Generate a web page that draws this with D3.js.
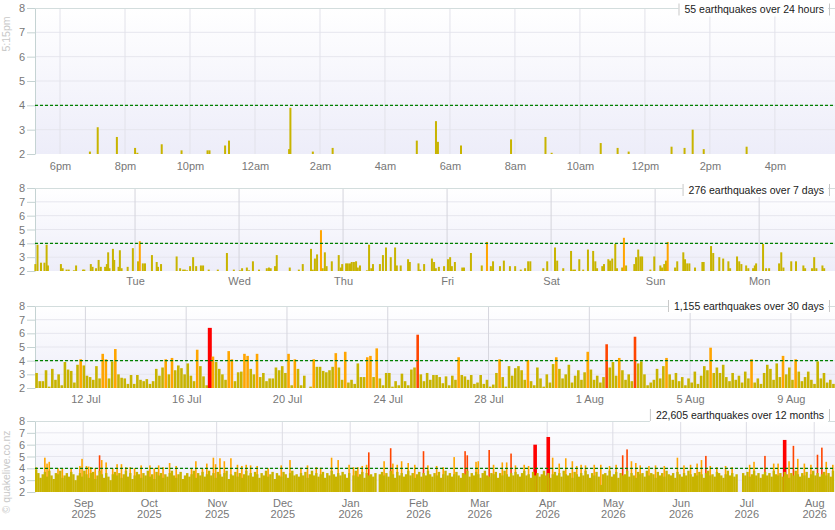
<!DOCTYPE html>
<meta charset="utf-8">
<style>
  body { margin: 0; background: #fff; }
  svg text { font-family: "Liberation Sans", Arial, sans-serif; }
</style>
<div id="chart"></div>
<script src="https://cdn.jsdelivr.net/npm/d3@7/dist/d3.min.js"></script>
<script>
// ---------- data ----------
var magTicks = [2, 3, 4, 5, 6, 7, 8];

// 24 hours: [hours from 10 Aug 00:00, magnitude]
var dayQuakes = [[-5.08,2.1],[-4.84,3.1],[-4.25,2.7],[-3.69,2.25],[-3.62,2.05],[-2.87,2.4],[-2.26,2.15],
  [-1.46,2.15],[-1.40,2.15],[-0.92,2.35],[-0.80,2.55],[1.05,2.2],[1.09,3.9],[1.78,2.1],[2.39,2.25],
  [4.98,2.55],[5.57,3.35],[5.63,2.5],[6.34,2.35],[7.88,2.6],[8.94,2.7],[9.13,2.05],[10.64,2.45],
  [11.16,2.25],[11.50,2.1],[12.82,2.3],[13.22,2.25],[13.47,3.0],[13.81,2.2],[15.13,2.3]];
var dayTickHours = [-6, -4, -2, 0, 2, 4, 6, 8, 10, 12, 14, 16];
var dayTickLabels = ["6pm","8pm","10pm","12am","2am","4am","6am","8am","10am","12pm","2pm","4pm"];

// 7 days: [hours from 3 Aug 00:00, magnitude]
var weekQuakes = [[1.0,2.5],[1.5,3.9],[2.3,2.6],[3.1,2.6],[3.6,3.9],[3.9,2.4],[6.9,2.5],[7.3,2.2],[8.2,2.1],
  [8.7,2.1],[9.9,2.05],[10.4,2.4],[12.0,2.1],[12.3,2.1],[13.8,2.5],[14.2,2.3],[15.0,2.2],[15.6,2.8],
  [16.1,2.3],[17.1,2.3],[17.5,2.5],[17.8,3.35],[18.1,2.2],[18.9,3.6],[19.2,2.8],[20.2,2.3],[20.5,3.5],
  [20.9,2.2],[22.3,2.3],[23.5,3.65],[24.7,2.7],[25.1,4.15],[25.8,2.55],[26.3,2.55],[27.9,3.15],
  [29.0,2.65],[29.3,2.3],[30.0,2.5],[33.6,3.05],[34.4,2.2],[35.1,2.1],[35.5,2.1],[36.0,2.05],
  [36.7,2.35],[37.4,3.0],[38.1,2.35],[39.2,2.4],[39.7,2.4],[41.0,2.1],[43.1,2.1],[45.2,3.3],
  [46.8,2.1],[48.2,2.05],[48.7,2.2],[49.8,2.25],[50.3,2.05],[51.2,2.7],[52.6,2.1],[54.4,2.2],
  [54.9,2.25],[55.3,2.2],[56.3,2.35],[56.7,3.15],[59.7,2.25],[61.8,2.1],[62.7,2.5],[64.6,3.6],
  [65.0,2.1],[65.5,2.9],[66.0,3.2],[66.9,4.95],[67.3,2.2],[67.8,3.35],[68.2,2.35],[69.4,2.7],
  [71.0,3.15],[71.5,2.25],[71.8,2.5],[72.7,2.55],[73.1,2.55],[73.6,2.55],[74.0,2.65],[74.5,2.65],
  [75.0,2.7],[75.4,2.25],[75.9,2.4],[77.5,2.05],[78.0,3.9],[78.5,2.2],[78.9,2.5],[80.5,2.5],
  [81.2,3.15],[81.9,3.7],[83.0,3.0],[84.0,3.7],[84.4,2.4],[85.3,2.4],[87.0,2.85],[87.4,2.65],
  [89.4,2.55],[89.8,2.1],[90.7,2.5],[92.5,2.9],[93.0,2.65],[93.4,2.2],[94.1,2.3],[95.3,2.35],
  [96.2,2.85],[96.7,3.0],[97.1,2.35],[97.8,2.65],[99.5,2.25],[99.9,2.25],[101.5,3.3],[104.0,2.4],
  [105.2,4.1],[106.1,2.35],[106.6,2.7],[108.2,2.35],[109.1,2.75],[110.5,2.35],[111.7,2.35],
  [113.0,2.1],[114.0,2.2],[114.7,2.7],[115.2,2.7],[118.2,2.2],[119.1,2.7],[120.9,3.7],[121.4,2.75],
  [122.8,2.2],[124.6,3.45],[125.1,2.1],[125.5,2.1],[126.5,2.85],[127.4,2.1],[128.5,3.55],[129.7,3.45],
  [130.2,2.7],[130.6,2.2],[131.8,2.35],[132.2,2.5],[133.2,2.85],[133.6,2.75],[134.1,2.9],[134.8,3.95],
  [135.2,2.2],[136.4,2.25],[136.8,4.4],[137.3,2.4],[139.2,2.5],[139.6,3.0],[140.1,3.55],[140.6,3.05],
  [141.0,3.05],[142.9,2.1],[143.8,3.05],[145.2,2.4],[145.6,2.25],[146.1,2.5],[146.5,2.75],[146.9,4.1],
  [148.6,2.25],[149.1,2.7],[150.5,3.35],[150.9,2.85],[151.4,2.55],[151.9,2.55],[153.2,2.25],
  [154.9,2.65],[155.2,2.65],[156.9,3.8],[157.4,3.3],[158.8,3.0],[159.7,2.9],[160.9,2.7],[161.3,2.2],
  [162.9,3.05],[163.4,2.7],[163.9,2.5],[165.0,2.4],[165.5,2.2],[166.6,2.2],[167.0,2.4],[167.3,2.55],
  [168.9,3.95],[169.6,2.2],[170.3,2.2],[172.6,2.55],[173.1,3.35],[173.6,2.25],[175.4,2.7],[176.5,2.7],
  [178.2,2.4],[178.6,2.2],[180.2,2.2],[180.7,3.0],[181.2,2.2],[182.6,2.4],[183.0,2.2]];
var weekTickDates = ["2026-08-04","2026-08-05","2026-08-06","2026-08-07","2026-08-08","2026-08-09","2026-08-10"];
var weekTickLabels = ["Tue","Wed","Thu","Fri","Sat","Sun","Mon"];

// 30 days: largest magnitude in each 3-hour bin from 10 Jul 00:00 (0 = none)
var monthMax = [3.1,2.5,2.5,3.3,2.1,3.4,2.6,3.0,2.2,3.9,
  3.35,3.25,2.4,3.7,4.1,3.65,2.9,2.8,2.6,3.6,
  2.7,4.5,4.1,2.7,3.95,4.85,3.0,2.75,2.7,2.3,
  2.95,2.3,2.95,2.6,2.5,2.65,2.3,2.5,3.4,2.9,
  3.5,4.1,3.0,4.2,3.3,3.65,3.45,3.0,3.8,2.9,
  2.5,4.8,3.6,2.85,2.2,6.4,4.3,3.9,3.4,3.0,
  2.6,4.7,4.1,2.5,3.15,3.2,4.5,4.35,3.4,3.0,
  4.5,2.8,3.1,2.5,2.7,2.7,3.5,3.3,3.6,3.1,
  4.5,2.2,4.1,3.4,2.2,2.9,0,2.1,4.1,3.55,
  3.55,3.25,3.15,3.3,3.55,4.55,3.5,2.6,4.65,2.4,
  2.6,2.3,3.8,2.8,2.8,4.25,4.35,2.8,4.9,2.7,
  2.2,3.1,3.1,2.1,2.5,2.2,3.05,2.5,2.2,3.35,
  3.5,5.9,3.0,2.5,3.1,2.6,2.95,2.95,2.8,2.35,
  2.85,2.2,2.9,2.6,4.25,2.95,2.85,2.6,2.95,2.3,
  2.4,2.95,2.3,2.6,2.1,2.25,3.1,4.1,2.8,2.1,
  3.6,2.9,3.45,3.6,3.3,2.6,4.05,2.5,2.2,3.5,
  2.7,2.1,3.0,2.4,3.75,4.25,3.4,2.7,3.0,3.7,
  2.4,2.9,3.3,2.6,3.15,4.65,3.35,2.6,2.9,2.4,
  2.8,5.2,3.5,3.9,2.9,4.2,3.3,2.6,3.0,2.5,
  5.75,3.8,3.95,3.0,2.2,2.4,2.6,3.4,2.7,3.6,
  4.2,3.0,2.6,3.1,2.5,2.8,2.2,2.7,2.4,3.2,
  2.3,2.9,3.6,3.3,4.95,3.1,3.5,3.1,3.7,2.8,
  2.5,3.1,2.6,2.9,2.4,3.2,2.7,4.1,2.4,2.7,
  2.3,3.1,3.7,3.4,2.6,3.8,2.8,4.35,3.0,3.5,
  2.6,4.1,3.2,2.5,2.8,3.2,2.6,2.3,3.95,2.7,
  3.1,2.4,2.6,2.3];
var monthTickDates = ["2026-07-12","2026-07-16","2026-07-20","2026-07-24","2026-07-28","2026-08-01","2026-08-05","2026-08-09"];
var monthTickLabels = ["12 Jul","16 Jul","20 Jul","24 Jul","28 Jul","1 Aug","5 Aug","9 Aug"];

// 12 months: daily largest magnitude below 4 from 10 Aug 2025 (0 = none)
var yearBase = [3.9,3.6,3.2,3.5,3.7,3.3,3.8,3.4,3.1,3.6,3.5,3.8,3.2,3.4,3.6,3.3,3.7,3.5,3.0,3.4,
  3.6,3.3,3.8,3.5,3.2,3.6,3.7,3.1,3.4,3.8,3.5,3.2,3.6,3.3,3.0,3.5,3.7,3.4,3.6,3.2,
  3.5,3.8,3.3,3.6,3.1,3.4,3.7,3.5,3.2,3.6,3.4,3.8,3.3,3.5,3.1,3.7,3.4,3.6,3.2,3.5,
  3.3,3.6,3.8,3.4,3.2,3.5,3.7,3.1,3.4,3.6,3.3,3.5,3.8,3.2,3.6,3.4,3.7,3.3,3.5,3.8,
  3.4,3.6,3.2,3.7,3.5,3.3,3.6,3.8,3.1,3.5,3.4,3.7,3.3,3.6,3.2,3.5,3.8,3.4,3.6,3.3,
  3.7,3.5,3.2,3.6,3.4,3.8,3.3,3.5,3.7,3.1,3.6,3.4,3.3,3.7,3.5,3.2,3.6,3.8,3.4,3.5,
  3.3,3.6,3.4,3.7,3.2,3.5,3.8,3.4,3.6,3.3,3.5,3.7,3.2,3.6,3.4,3.8,3.5,3.3,3.6,3.4,
  3.7,3.5,3.2,3.6,0,3.4,3.8,3.3,3.5,3.7,3.2,3.6,3.4,3.5,3.3,3.6,0,3.5,3.7,3.4,
  3.6,3.3,3.8,3.5,3.2,3.7,3.4,3.6,3.3,3.5,3.8,3.4,3.6,3.2,3.5,3.7,3.3,3.6,3.4,3.8,
  3.5,3.3,3.6,3.4,3.7,3.2,3.5,3.8,3.4,3.6,3.3,3.5,3.7,3.4,3.2,3.6,3.5,3.8,3.3,3.6,
  3.4,3.7,3.5,3.2,3.6,3.8,3.4,3.3,3.6,3.5,3.7,3.2,3.6,3.4,3.8,3.5,3.3,3.6,3.4,3.7,
  3.5,3.3,3.6,3.8,3.4,3.5,3.2,3.7,3.4,3.6,3.3,3.5,3.8,3.4,3.6,3.2,3.5,3.7,3.4,3.6,
  3.3,3.8,3.5,3.4,3.6,3.2,3.7,3.5,3.3,3.6,3.4,3.8,3.5,3.2,3.6,3.4,3.7,3.3,2.6,3.5,
  3.6,3.4,3.8,3.3,3.5,3.7,3.2,3.6,3.4,3.5,3.8,3.3,3.6,3.4,3.2,3.7,3.5,3.6,3.3,3.8,
  3.4,3.6,3.5,3.2,3.7,3.4,3.6,3.3,3.8,3.5,3.4,3.6,3.2,3.7,3.5,3.3,3.6,3.4,3.8,3.5,
  3.3,3.6,3.4,3.7,3.5,3.2,3.6,3.8,3.4,3.5,3.3,3.7,3.6,3.4,3.2,3.5,3.8,3.4,3.6,3.3,
  3.5,0,0,3.6,3.4,3.7,3.3,3.5,3.8,3.4,3.6,3.2,3.5,3.7,3.4,3.6,3.3,3.8,3.5,3.4,
  3.6,3.3,3.7,3.5,3.2,3.6,3.4,3.8,3.5,3.3,3.6,3.4,3.7,3.2,3.5,3.8,3.4,3.6,3.3,3.5,
  3.7,3.4,3.6,3.3,3.8];
// 12 months: days with a quake of 4 or more [day from 10 Aug 2025, magnitude]
var yearPeaks = [[0,4.1],[4,4.9],[5,4.4],[6,4.55],[10,4.0],[12,4.0],[16,4.0],[20,4.2],[21,4.8],[23,4.2],
  [24,4.15],[25,4.1],[27,4.0],[29,5.1],[30,4.7],[32,4.5],[35,4.0],[37,4.35],[39,4.35],[41,4.1],[43,4.1],
  [45,4.0],[48,4.25],[52,4.25],[54,4.0],[56,4.25],[58,4.1],[61,4.45],[64,4.2],[71,4.0],[73,4.6],[76,4.0],
  [78,4.4],[81,4.9],[82,4.35],[84,4.85],[86,4.6],[89,4.85],[92,4.3],[94,4.2],[96,4.3],[98,4.25],[101,4.2],
  [106,4.0],[112,4.25],[116,4.7],[121,4.05],[124,4.25],[128,4.1],[130,4.05],[135,4.9],[138,4.7],[143,4.3],
  [145,4.1],[147,4.1],[149,4.2],[151,4.3],[152,5.35],[159,4.6],[162,5.7],[163,4.4],[165,4.3],[167,4.6],
  [170,4.45],[173,4.3],[177,5.45],[179,4.25],[183,4.2],[186,4.1],[191,4.95],[196,5.45],[197,5.1],[201,4.55],
  [202,4.6],[207,5.55],[209,4.3],[213,4.5],[215,4.5],[217,5.25],[219,4.25],[223,4.3],[225,4.2],[228,6.0],
  [234,6.65],[236,4.9],[239,4.4],[242,4.85],[245,4.6],[247,4.2],[249,4.3],[251,4.25],[255,4.3],[258,4.3],
  [262,4.2],[265,4.3],[268,5.1],[270,5.6],[272,4.6],[274,4.45],[276,4.25],[280,4.2],[283,4.25],[287,4.2],
  [293,4.9],[296,4.25],[299,4.3],[302,4.4],[304,4.7],[306,5.05],[308,4.2],[311,4.1],[315,4.2],[318,4.1],
  [326,4.3],[328,4.55],[333,5.05],[337,4.4],[339,4.4],[342,6.4],[344,4.6],[346,5.9],[348,4.8],[351,4.4],
  [354,4.3],[357,5.15],[359,5.75],[361,4.55],[364,4.3]];
var yearTickDates = ["2025-09-01","2025-10-01","2025-11-01","2025-12-01","2026-01-01","2026-02-01",
  "2026-03-01","2026-04-01","2026-05-01","2026-06-01","2026-07-01","2026-08-01"];
var yearTickMonths = ["Sep","Oct","Nov","Dec","Jan","Feb","Mar","Apr","May","Jun","Jul","Aug"];
var yearTickYears = ["2025","2025","2025","2025","2026","2026","2026","2026","2026","2026","2026","2026"];

var legends = ["55 earthquakes over 24 hours", "276 earthquakes over 7 days",
  "1,155 earthquakes over 30 days", "22,605 earthquakes over 12 months"];

// ---------- helpers ----------
var parseDay = d3.timeParse("%Y-%m-%d");
function hoursFrom(base, h) { return new Date(base.getTime() + h * 36e5); }
function magColor(m) { return m >= 6 ? "#ff0000" : m >= 5 ? "#ff4500" : m >= 4 ? "#ffa500" : "#c8b400"; }

var L = 35, R = 835;
var svg = d3.select("#chart").append("svg").attr("width", 835).attr("height", 530);
var grad = svg.append("defs").append("linearGradient").attr("id", "bg")
  .attr("x1", 0).attr("y1", 0).attr("x2", 0).attr("y2", 1);
grad.append("stop").attr("offset", "0%").attr("stop-color", "#ffffff");
grad.append("stop").attr("offset", "100%").attr("stop-color", "#ededf9");

function panel(p) {
  var x = d3.scaleTime().domain(p.domain).range([L, R]);
  var y = d3.scaleLinear().domain([2, 8]).range([p.bottom, p.top]);
  var g = svg.append("g");
  g.append("rect").attr("x", L).attr("y", p.top).attr("width", R - L)
    .attr("height", p.bottom - p.top).attr("fill", "url(#bg)");
  g.selectAll(".hg").data(magTicks.slice(1, -1)).join("line")
    .attr("x1", L).attr("x2", R).attr("y1", d => y(d)).attr("y2", d => y(d))
    .attr("stroke", "#e6e6ee");
  g.selectAll(".vg").data(p.ticks).join("line")
    .attr("x1", d => x(d)).attr("x2", d => x(d)).attr("y1", p.top).attr("y2", p.bottom)
    .attr("stroke", p.grid);
  var xa = g.append("g").attr("transform", "translate(0," + p.bottom + ")")
    .call(d3.axisBottom(x).tickValues(p.ticks).tickSize(0).tickPadding(p.pad)
      .tickFormat((d, i) => p.labels[i]));
  xa.select(".domain").remove();
  xa.selectAll("text").attr("fill", "#777").style("font-size", "11px");
  var ya = g.append("g").attr("transform", "translate(" + L + ",0)")
    .call(d3.axisLeft(y).tickValues(magTicks).tickFormat(d3.format("d"))
      .tickSize(8).tickSizeOuter(0).tickPadding(2));
  ya.select(".domain").attr("stroke", "#c5d3d3");
  ya.selectAll("line").attr("stroke", "#c5d3d3");
  ya.selectAll("text").attr("fill", "#777").style("font-size", "11px");
  g.append("line").attr("x1", L).attr("x2", R).attr("y1", p.top + 0.5).attr("y2", p.top + 0.5)
    .attr("stroke", "#d3dddd");
  p.x = x; p.y = y; p.g = g; p.xa = xa;
  p.bars = g.append("g");
  return p;
}

function finish(p) {
  p.g.append("line").attr("x1", L).attr("x2", R).attr("y1", p.y(4)).attr("y2", p.y(4))
    .attr("stroke", "#008000").attr("stroke-width", 1.2).attr("stroke-dasharray", "3,2");
  var lg = p.g.append("g");
  var box = lg.append("rect").attr("fill", "#fff");
  var t = lg.append("text").attr("x", 824).attr("y", p.legendY).attr("dy", "0.35em")
    .attr("text-anchor", "end").style("font-size", "10.5px").attr("fill", "#1a1a1a").text(p.legend);
  var w = t.node().getComputedTextLength();
  box.attr("x", 824 - w - 6).attr("y", p.legendY - 7).attr("width", w + 10).attr("height", 14);
  lg.selectAll("line").data([824 - w - 6, 829]).join("line")
    .attr("x1", d => d + 0.5).attr("x2", d => d + 0.5)
    .attr("y1", p.legendY - 6).attr("y2", p.legendY + 6).attr("stroke", "#c8c8c8");
}

// ---------- 24 hours ----------
var dayBase = parseDay("2026-08-10");
var p1 = panel({
  top: 8, bottom: 154, pad: 8, legendY: 9.5, legend: legends[0], grid: "#e2e2ea",
  domain: [hoursFrom(dayBase, -6.77), hoursFrom(dayBase, 17.85)],
  ticks: dayTickHours.map(h => hoursFrom(dayBase, h)), labels: dayTickLabels
});
p1.bars.selectAll("rect").data(dayQuakes).join("rect")
  .attr("x", d => p1.x(hoursFrom(dayBase, d[0])) - 1).attr("width", 2)
  .attr("y", d => p1.y(d[1])).attr("height", d => p1.y(2) - p1.y(d[1]))
  .attr("fill", d => magColor(d[1]));
finish(p1);

// ---------- 7 days ----------
var weekBase = parseDay("2026-08-03");
var p2 = panel({
  top: 188, bottom: 271, pad: 6, legendY: 190, legend: legends[1], grid: "#d4d4dc",
  domain: [hoursFrom(weekBase, 0.92), hoursFrom(weekBase, 185.5)],
  ticks: weekTickDates.map(parseDay), labels: weekTickLabels
});
p2.bars.selectAll("rect").data(weekQuakes).join("rect")
  .attr("x", d => p2.x(hoursFrom(weekBase, d[0])) - 1).attr("width", 2)
  .attr("y", d => p2.y(d[1])).attr("height", d => p2.y(2) - p2.y(d[1]))
  .attr("fill", d => magColor(d[1]));
finish(p2);

// ---------- 30 days ----------
var monthBase = parseDay("2026-07-10");
var p3 = panel({
  top: 306, bottom: 388, pad: 7, legendY: 306, legend: legends[2], grid: "#d6d6de",
  domain: [monthBase, hoursFrom(monthBase, 31.75 * 24)],
  ticks: monthTickDates.map(parseDay), labels: monthTickLabels
});
var monthBins = monthMax.map((m, i) => ({ t: hoursFrom(monthBase, i * 3 + 1.5), m: m })).filter(d => d.m >= 2);
p3.bars.selectAll("rect").data(monthBins).join("rect")
  .attr("x", d => p3.x(d.t) - (d.m >= 6 ? 2 : 1.3)).attr("width", d => d.m >= 6 ? 4 : 2.6)
  .attr("y", d => p3.y(d.m)).attr("height", d => p3.y(2) - p3.y(d.m))
  .attr("fill", d => magColor(d.m));
finish(p3);

// ---------- 12 months ----------
var yearBaseDate = parseDay("2025-08-10");
var p4 = panel({
  top: 421, bottom: 492, pad: 7, legendY: 415, legend: legends[3], grid: "#dcdce4",
  domain: [yearBaseDate, hoursFrom(yearBaseDate, 365.5 * 24)],
  ticks: yearTickDates.map(parseDay), labels: yearTickMonths
});
p4.xa.selectAll(".tick text").each(function (d, i) {
  var t = d3.select(this).text(null);
  t.append("tspan").attr("x", 0).text(yearTickMonths[i]);
  t.append("tspan").attr("x", 0).attr("dy", "1.05em").text(yearTickYears[i]);
});
p4.bars.append("g").selectAll("rect").data(yearPeaks).join("rect")
  .attr("x", d => p4.x(hoursFrom(yearBaseDate, d[0] * 24 + 12)) - (d[1] >= 6 ? 1.8 : 0.8))
  .attr("width", d => d[1] >= 6 ? 3.6 : 1.6)
  .attr("y", d => p4.y(d[1])).attr("height", d => p4.y(2) - p4.y(d[1]))
  .attr("fill", d => magColor(d[1]));
var yearDays = yearBase.map((m, i) => ({ i: i, m: m })).filter(d => d.m >= 2);
p4.bars.append("g").selectAll("rect").data(yearDays).join("rect")
  .attr("x", d => p4.x(hoursFrom(yearBaseDate, d.i * 24)))
  .attr("width", d => p4.x(hoursFrom(yearBaseDate, (d.i + 1) * 24)) - p4.x(hoursFrom(yearBaseDate, d.i * 24)) + 0.2)
  .attr("y", d => p4.y(d.m)).attr("height", d => p4.y(2) - p4.y(d.m))
  .attr("fill", "#c8b400");
finish(p4);

// side notes
svg.append("text").attr("transform", "translate(10,34) rotate(-90)").attr("text-anchor", "middle")
  .style("font-size", "10.5px").attr("fill", "#c8c8c8").text("5:15pm");
svg.append("text").attr("transform", "translate(10,472) rotate(-90)").attr("text-anchor", "middle")
  .style("font-size", "10.5px").attr("fill", "#c8c8c8").text("© quakelive.co.nz");
</script>
